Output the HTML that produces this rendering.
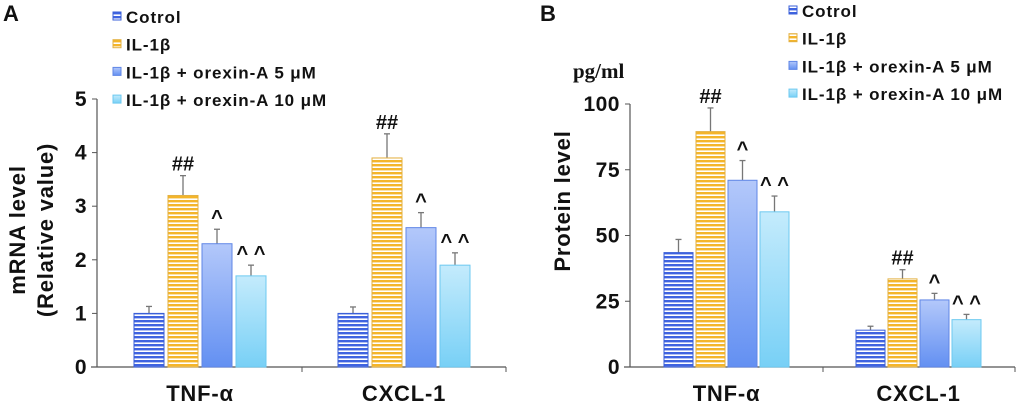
<!DOCTYPE html>
<html><head><meta charset="utf-8"><style>
body{margin:0;background:#fff}
svg{display:block;font-family:"Liberation Sans",sans-serif}
</style></head><body>
<svg id="c" width="1020" height="407" viewBox="0 0 1020 407">
<defs>
<pattern id="pCtl" width="4" height="4" patternUnits="userSpaceOnUse"><rect width="4" height="4" fill="#fff"/><rect width="4" height="2.4" fill="#3f63e0"/></pattern>
<pattern id="pIL" width="4" height="4" patternUnits="userSpaceOnUse"><rect width="4" height="4" fill="#fff"/><rect width="4" height="2.4" fill="#f4b52a"/></pattern>
<linearGradient id="g5" x1="0" y1="0" x2="0" y2="1"><stop offset="0" stop-color="#b3c8fa"/><stop offset="1" stop-color="#6390f2"/></linearGradient>
<linearGradient id="g10" x1="0" y1="0" x2="0" y2="1"><stop offset="0" stop-color="#c4ebfc"/><stop offset="1" stop-color="#78d0f6"/></linearGradient>
</defs>
</svg>
<script>
const categories = ["TNF-α", "CXCL-1"];
const seriesNames = ["Cotrol", "IL-1β", "IL-1β + orexin-A 5 μM", "IL-1β + orexin-A 10 μM"];
const mrnaValues = [[1, 1], [3.2, 3.9], [2.3, 2.6], [1.7, 1.9]];
const mrnaErrors = [[0.13, 0.12], [0.37, 0.45], [0.27, 0.28], [0.2, 0.23]];
const proteinValues = [[43.5, 14], [89.5, 33.5], [71, 25.5], [59, 18]];
const proteinErrors = [[5, 1.5], [9, 3.5], [7.5, 2.5], [6, 2]];
const sigMarks = [["", ""], ["##", "##"], ["^", "^"], ["^ ^", "^ ^"]];
const mrnaTicks = [0, 1, 2, 3, 4, 5];
const proteinTicks = [0, 25, 50, 75, 100];

const svg = document.getElementById('c');
const NS = 'http://www.w3.org/2000/svg';
const fills = ['url(#pCtl)', 'url(#pIL)', 'url(#g5)', 'url(#g10)'];
const strokes = ['#3a5fd8', '#e3b040', '#5f86e6', '#6cc9f0'];
function mk(tag, attrs, parent) {
  const e = document.createElementNS(NS, tag);
  for (const k in attrs) e.setAttribute(k, attrs[k]);
  (parent || svg).appendChild(e);
  return e;
}
function panel(cfg) {
  const g = mk('g', {});
  
  
  const y = v => cfg.y0 - (v / cfg.max) * (cfg.y0 - cfg.yTop);
  const ya = mk('line', {x1: cfg.ax, y1: y(cfg.max), x2: cfg.ax, y2: cfg.y0, stroke: '#555', 'stroke-width': 1.2}, g);
  
  
  const xa = mk('line', {x1: cfg.ax - 6, y1: cfg.y0, x2: cfg.axEnd, y2: cfg.y0, stroke: '#555', 'stroke-width': 1.2}, g);
  
  
  mk('line', {x1: cfg.mid, y1: cfg.y0, x2: cfg.mid, y2: cfg.y0 + 5, stroke: '#555'}, g);
  mk('line', {x1: cfg.axEnd, y1: cfg.y0, x2: cfg.axEnd, y2: cfg.y0 + 5, stroke: '#555'}, g);
  cfg.ticks.forEach(t => {
    mk('line', {x1: cfg.ax - 5, y1: y(t), x2: cfg.ax, y2: y(t), stroke: '#555'}, g);
    const tl = mk('text', {x: cfg.ax - 10, y: y(t) + 7, 'text-anchor': 'end', 'font-size': 21, 'font-weight': 'bold', fill: '#111', 'letter-spacing': 0.5}, g);
    tl.textContent = t;
    
    
  });
  categories.forEach((cat, ci) => {
    for (let s = 0; s < 4; s++) {
      const x = cfg.groupX[ci] + s * cfg.step;
      const v = cfg.values[s][ci], e = cfg.errors[s][ci];
      const cx = x + cfg.bw / 2;
      mk('line', {x1: cx, y1: y(v), x2: cx, y2: y(v + e), stroke: '#777', 'stroke-width': 1.3}, g);
      mk('line', {x1: cx - 3, y1: y(v + e), x2: cx + 3, y2: y(v + e), stroke: '#777', 'stroke-width': 1.3}, g);
      const b = mk('rect', {x: x, y: y(v), width: cfg.bw, height: cfg.y0 - y(v), fill: fills[s], stroke: strokes[s], 'stroke-width': 1}, g);
      
      
      if (sigMarks[s][ci]) {
        const m = mk('text', {x: cx, y: y(v + e) - 5, 'text-anchor': 'middle', 'font-size': 20, 'font-weight': 'bold', fill: '#111'}, g);
        m.textContent = sigMarks[s][ci];
        
        
      }
    }
    const xl = mk('text', {x: cfg.groupX[ci] + (3 * cfg.step + cfg.bw) / 2, y: 401, 'text-anchor': 'middle', 'font-size': 22, 'font-weight': 'bold', fill: '#111', 'letter-spacing': 0.8}, g);
    xl.textContent = cat;
    
    
  });
  seriesNames.forEach((n, s) => {
    const ly = cfg.legY + s * 27.7;
    const r = mk('rect', {x: cfg.legX, y: ly - 5, width: 8, height: 8, fill: fills[s], stroke: strokes[s]}, g);
    
    
    const t = mk('text', {x: cfg.legX + 13, y: ly + 6, 'font-size': 17, 'font-weight': 'bold', fill: '#111', 'letter-spacing': 0.9}, g);
    t.textContent = n;
    
    
  });
  const pl = mk('text', {x: cfg.labelX, y: 21, 'font-size': 22, 'font-weight': 'bold', fill: '#111'}, g);
  pl.textContent = cfg.letter;
  
  
}
panel({name: 'panel-a', letter: 'A', labelX: 3, ax: 97, axEnd: 506, mid: 302, y0: 367, yTop: 99, max: 5, ticks: mrnaTicks,
  values: mrnaValues, errors: mrnaErrors, groupX: [134, 338], step: 34, bw: 30, legX: 113, legY: 17});
panel({name: 'panel-b', letter: 'B', labelX: 540, ax: 630, axEnd: 1015, mid: 823, y0: 367, yTop: 104, max: 100, ticks: proteinTicks,
  values: proteinValues, errors: proteinErrors, groupX: [664, 856], step: 32, bw: 29, legX: 789, legY: 11});

function yTitle(txt, x, y, name) {
  const t = mk('text', {x: x, y: y, 'text-anchor': 'middle', 'font-size': 22, 'font-weight': 'bold', fill: '#111', 'letter-spacing': 0.8, transform: 'rotate(-90 ' + x + ' ' + y + ')'});
  t.textContent = txt;
  
  
}
yTitle('mRNA level', 25, 230, 'y-axis-title-a');
yTitle('(Relative value)', 53, 230, 'y-axis-title-a-unit');
yTitle('Protein level', 570, 201, 'y-axis-title-b');
const u = mk('text', {x: 573, y: 78, 'font-size': 21, 'font-weight': 'bold', 'font-family': '"Liberation Serif",serif', fill: '#111'});
u.textContent = 'pg/ml';


</script>
</body></html>
